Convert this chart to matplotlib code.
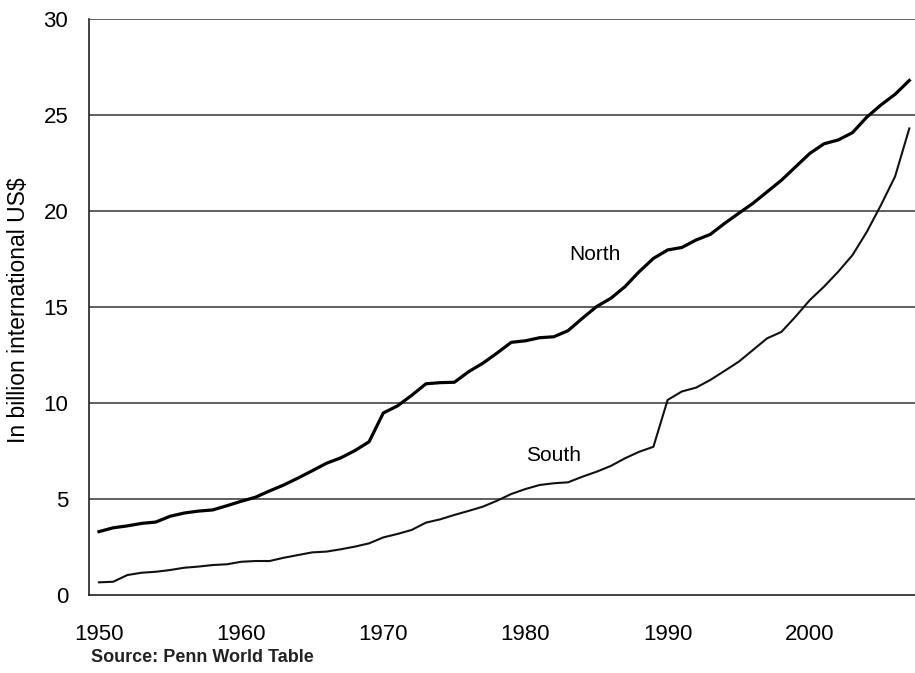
import matplotlib
matplotlib.use("Agg")
import matplotlib.pyplot as plt
import numpy as np

plt.rcParams['font.family'] = ['Liberation Sans', 'DejaVu Sans']

years = list(range(1950, 2008))
north = [3.3, 3.5, 3.6, 3.73, 3.8, 4.1, 4.27, 4.37, 4.43, 4.65,
         4.88, 5.09, 5.42, 5.73, 6.09, 6.47, 6.86, 7.14, 7.52, 7.98,
         9.48, 9.85, 10.4, 11.0, 11.06, 11.08, 11.63, 12.07, 12.6, 13.16,
         13.24, 13.4, 13.45, 13.77, 14.41, 15.02, 15.45, 16.06, 16.84, 17.53,
         17.97, 18.1, 18.49, 18.78, 19.35, 19.88, 20.4, 21.0, 21.6, 22.3,
         23.0, 23.5, 23.7, 24.08, 24.88, 25.52, 26.08, 26.8]
south = [0.66, 0.69, 1.04, 1.16, 1.21, 1.30, 1.42, 1.48, 1.56, 1.6,
         1.73, 1.77, 1.77, 1.94, 2.08, 2.22, 2.26, 2.38, 2.52, 2.69,
         3.0, 3.18, 3.39, 3.77, 3.94, 4.17, 4.38, 4.6, 4.91, 5.26,
         5.52, 5.73, 5.82, 5.87, 6.16, 6.42, 6.72, 7.12, 7.46, 7.72,
         10.16, 10.6, 10.8, 11.2, 11.67, 12.15, 12.76, 13.37, 13.7, 14.5,
         15.36, 16.06, 16.84, 17.7, 18.9, 20.3, 21.8, 24.3]
xticks = [1950, 1960, 1970, 1980, 1990, 2000]
yticks = [0, 5, 10, 15, 20, 25, 30]

fig = plt.figure(figsize=(9.15, 6.73), dpi=100)
ax = fig.add_axes([89/915, 1 - 595/673, 1 - 89/915, (595 - 19)/673])

for yv in yticks[1:]:
    ax.axhline(yv, color='#444444', lw=1.2, zorder=1)

ax.plot(years, north, color='black', lw=2.3, zorder=3, solid_joinstyle='round')
ax.plot(years, south, color='#111111', lw=1.5, zorder=3, solid_joinstyle='round')

ax.set_xlim(1949.3, 2007.4)
ax.set_ylim(0, 30)
ax.set_xticks(xticks)
ax.set_yticks(yticks)
ax.tick_params(axis='both', length=0, labelsize=16)
ax.tick_params(axis='x', pad=21)
ax.tick_params(axis='y', pad=15)

for s in ['top', 'right']:
    ax.spines[s].set_visible(False)
for s in ['left', 'bottom']:
    ax.spines[s].set_color('#222222')
    ax.spines[s].set_linewidth(1.2)

fig.text(19/915, 1 - 310/673, 'In billion international US$', fontsize=16.5,
         rotation=90, ha='center', va='center')

ax.text(1984.9, 17.76, 'North', fontsize=15, ha='center', va='center')
ax.text(1982.0, 7.29, 'South', fontsize=15, ha='center', va='center')

fig.text(91/915, 1 - 658/673, 'Source: Penn World Table', fontsize=13,
         fontweight='bold', ha='left', va='center', color='#222222')

fig.savefig('out.png', dpi=100)
